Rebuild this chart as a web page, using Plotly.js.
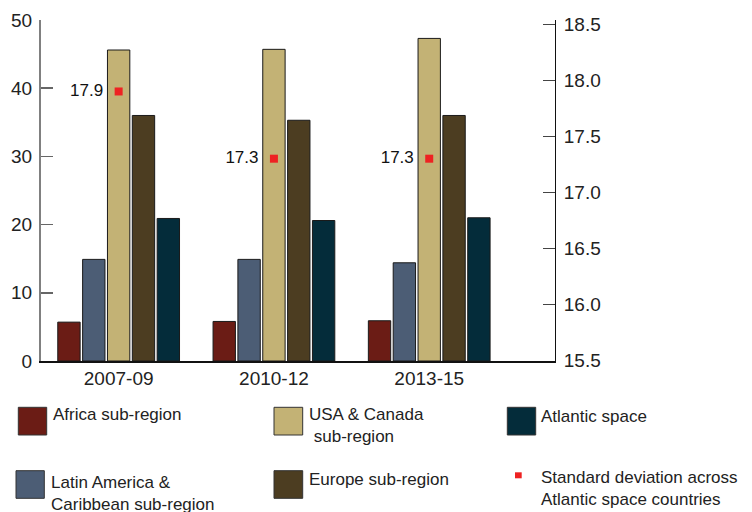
<!DOCTYPE html>
<html>
<head>
<meta charset="utf-8">
<script src="https://cdn.plot.ly/plotly-3.0.1.min.js"></script>
<style>html,body{margin:0;padding:0;background:#fff;}#chart{width:752px;height:512px;}</style>
</head>
<body>
<div id="chart"></div>
<script>
// ---- Data ----
const periods = ["2007-09", "2010-12", "2013-15"];
const seriesNames = ["Africa sub-region", "Latin America & Caribbean sub-region", "USA & Canada sub-region", "Europe sub-region", "Atlantic space"];
const africa = [5.7, 5.8, 5.9];
const latinAmerica = [14.9, 14.9, 14.4];
const usaCanada = [45.6, 45.7, 47.3];
const europe = [36.0, 35.3, 36.0];
const atlantic = [20.9, 20.6, 21.0];
const stdDev = [17.9, 17.3, 17.3];
const stdDevName = "Standard deviation across Atlantic space countries";
const leftTicks = [0, 10, 20, 30, 40, 50];
const rightTicks = [15.5, 16.0, 16.5, 17.0, 17.5, 18.0, 18.5];

// ---- Styles ----
const colors = ["#6B1C15", "#4C5D75", "#C3B275", "#4C3D21", "#042C3A"];
const redColor = "#EE2222";
const FONT = "Liberation Sans, Arial, sans-serif";
const W = 752, H = 512;
const M = {l: 41, r: 197, t: 20, b: 151};

const values = [africa, latinAmerica, usaCanada, europe, atlantic];
const traces = values.map((v, i) => ({
  type: "bar",
  name: seriesNames[i],
  x: periods,
  y: v,
  marker: {color: colors[i], line: {color: "#1a1a1a", width: 1}},
  showlegend: false,
  hoverinfo: "x+y+name"
}));
traces.push({
  type: "scatter",
  mode: "markers+text",
  name: stdDevName,
  x: periods,
  y: stdDev,
  yaxis: "y2",
  marker: {symbol: "square", size: 8, color: redColor},
  text: stdDev.map(v => v.toFixed(1) + "\u00a0\u00a0"),
  textposition: "middle left",
  textfont: {family: FONT, size: 17, color: "#111"},
  showlegend: false,
  cliponaxis: false
});

// pixel -> paper helpers for the custom legend
const pw = W - M.l - M.r, ph = H - M.t - M.b;
const px = x => (x - M.l) / pw;
const py = y => (H - M.b - y) / ph;

const legendItems = [
  {color: colors[0], box: [18.3, 407.3, 46.7, 435], tx: 50.5, ty: 414.5, text: "Africa sub-region"},
  {color: colors[1], box: [16, 470.7, 44.3, 498.3], tx: 49, ty: 493, text: "Latin America &<br>Caribbean sub-region"},
  {color: colors[2], box: [274, 407.3, 302.7, 435], tx: 306.5, ty: 425, text: "USA & Canada<br>\u00a0sub-region"},
  {color: colors[3], box: [274, 470.7, 302.7, 498.3], tx: 306.5, ty: 479, text: "Europe sub-region"},
  {color: colors[4], box: [507.3, 407.3, 535.7, 435], tx: 539, ty: 416, text: "Atlantic space"},
];
const shapes = legendItems.map(it => ({
  type: "rect", xref: "paper", yref: "paper",
  x0: px(it.box[0]), x1: px(it.box[2]), y0: py(it.box[3]), y1: py(it.box[1]),
  fillcolor: it.color, line: {color: "#333", width: 1}
}));
shapes.push({
  type: "rect", xref: "paper", yref: "paper",
  x0: px(515), x1: px(521.7), y0: py(478.3), y1: py(472.3),
  fillcolor: redColor, line: {width: 0}
});
const annotations = legendItems.map(it => ({
  xref: "paper", yref: "paper", x: px(it.tx), y: py(it.ty),
  xanchor: "left", yanchor: "middle", align: "left", showarrow: false,
  text: it.text, font: {family: FONT, size: 17, color: "#222"}
}));
annotations.push({
  xref: "paper", yref: "paper", x: px(539), y: py(488),
  xanchor: "left", yanchor: "middle", align: "left", showarrow: false,
  text: "Standard deviation across<br>Atlantic space countries",
  font: {family: FONT, size: 17, color: "#222"}
});

const layout = {
  width: W, height: H,
  margin: M,
  paper_bgcolor: "#fff", plot_bgcolor: "#fff",
  font: {family: FONT, size: 19, color: "#222"},
  barmode: "group",
  bargap: 0.2,
  bargroupgap: 0.1,
  showlegend: false,
  xaxis: {
    type: "category", range: [-0.5, 2.81],
    showline: true, linecolor: "#111", linewidth: 1.5,
    ticks: "", showgrid: false, zeroline: false,
    tickfont: {family: FONT, size: 19, color: "#222"}
  },
  yaxis: {
    range: [0, 50], tickvals: leftTicks,
    showline: true, linecolor: "#808080", linewidth: 2,
    ticks: "inside", ticklen: 12, tickcolor: "#666", tickwidth: 1.5,
    ticklabelstandoff: 3,
    showgrid: false, zeroline: false,
    tickfont: {family: FONT, size: 19, color: "#222"}
  },
  yaxis2: {
    overlaying: "y", side: "right",
    range: [15.494, 18.538], tickvals: rightTicks, tickformat: ".1f",
    showline: true, linecolor: "#111", linewidth: 1,
    ticks: "inside", ticklen: 12, tickcolor: "#444", tickwidth: 1.5,
    ticklabelstandoff: 4,
    showgrid: false, zeroline: false,
    tickfont: {family: FONT, size: 19, color: "#222"}
  },
  shapes: shapes,
  annotations: annotations
};

Plotly.newPlot("chart", traces, layout, {displayModeBar: false, staticPlot: true});
</script>
</body>
</html>
